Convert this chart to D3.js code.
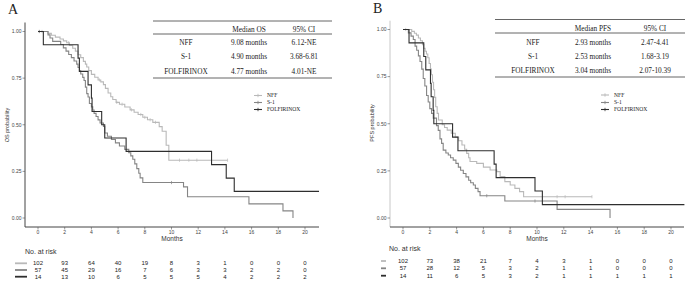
<!DOCTYPE html>
<html>
<head>
<meta charset="utf-8">
<script src="https://cdn.jsdelivr.net/npm/d3@7"></script>
<style>
  body { margin: 0; background: #fff; }
  svg { display: block; }
  .tick-lab { font-family: "Liberation Sans", Arial, sans-serif; font-size: 5px; fill: #444; }
  .risk { font-family: "Liberation Sans", Arial, sans-serif; font-size: 6px; fill: #222; }
  .serif { font-family: "Liberation Serif", "Times New Roman", serif; fill: #222; }
</style>
</head>
<body>
<div id="chart"></div>
<script>
// groups, in legend / risk-table order
const groups = ["NFF", "S-1", "FOLFIRINOX"];
const xTicks = [0, 2, 4, 6, 8, 10, 12, 14, 16, 18, 20];
const yTicks = [0, 0.25, 0.5, 0.75, 1];
const yTickLabels = ["0.00", "0.25", "0.50", "0.75", "1.00"];

// ---- overall survival (panel A), [months, probability] steps
const osNFF = [[0,1],[0.75,0.99],[1.0,0.98],[1.3,0.97],[1.65,0.96],[1.9,0.95],[2.15,0.94],[2.35,0.925],
  [2.6,0.91],[2.8,0.895],[3.0,0.875],[3.2,0.86],[3.4,0.84],[3.55,0.825],[3.65,0.81],[3.8,0.79],
  [4.0,0.77],[4.25,0.755],[4.5,0.74],[4.7,0.73],[4.9,0.715],[5.05,0.695],[5.25,0.67],[5.45,0.65],
  [5.6,0.635],[5.85,0.62],[6.1,0.61],[6.5,0.595],[6.9,0.58],[7.2,0.567],[7.5,0.555],[7.85,0.54],
  [8.2,0.527],[8.6,0.513],[9.08,0.49],[9.3,0.465],[9.6,0.39],[9.8,0.31]];
const osNFFEnd = 14.2;
const osNFFCensor = [0.1, 0.3, 2.3, 4.6, 5.9, 6.3, 7.0, 7.7, 8.0, 8.4, 8.8, 10.6, 11.3, 11.9, 14.2];

const osS1 = [[0,1],[0.75,0.982],[0.9,0.965],[1.1,0.947],[1.7,0.93],[1.9,0.912],[2.1,0.895],[2.3,0.877],
  [2.5,0.86],[2.7,0.842],[2.9,0.825],[3.0,0.807],[3.1,0.789],[3.2,0.772],[3.35,0.754],[3.45,0.737],
  [3.55,0.702],[3.65,0.667],[3.75,0.649],[3.85,0.614],[4.0,0.596],[4.1,0.579],[4.2,0.561],[4.35,0.544],
  [4.5,0.526],[4.65,0.509],[4.9,0.491],[5.0,0.456],[5.2,0.438],[5.5,0.421],[5.8,0.403],[6.1,0.386],
  [6.5,0.368],[6.8,0.35],[6.95,0.333],[7.1,0.315],[7.25,0.29],[7.4,0.265],[7.55,0.24],[7.65,0.215],
  [7.85,0.19],[10.9,0.167],[11.2,0.114],[15.8,0.076],[18.35,0.038],[19.1,0.0]];
const osS1End = 19.1;
const osS1Censor = [0.1, 10.0];

const osFOLF = [[0,1],[0.4,0.929],[3.0,0.857],[3.1,0.786],[3.75,0.714],[4.0,0.643],[4.05,0.571],
  [4.77,0.5],[5.0,0.429],[6.6,0.357],[13.0,0.286],[14.1,0.214],[14.7,0.143]];
const osFOLFEnd = 21.05;
const osFOLFCensor = [];

const osRisk = [
  [102, 93, 64, 40, 19, 8, 3, 1, 0, 0, 0],
  [57, 45, 29, 16, 7, 6, 3, 3, 2, 2, 0],
  [14, 13, 10, 6, 5, 5, 5, 4, 2, 2, 2]
];
const osTableHead = ["", "Median OS", "95% CI"];
const osTableRows = [
  ["NFF", "9.08 months", "6.12-NE"],
  ["S-1", "4.90 months", "3.68-6.81"],
  ["FOLFIRINOX", "4.77 months", "4.01-NE"]
];

// ---- progression-free survival (panel B)
const pfsNFF = [[0,1],[0.65,0.99],[0.85,0.98],[1.0,0.97],[1.15,0.955],[1.3,0.94],[1.45,0.92],[1.55,0.9],
  [1.65,0.885],[1.75,0.87],[1.85,0.85],[1.95,0.82],[2.05,0.79],[2.12,0.76],[2.2,0.72],[2.28,0.68],
  [2.36,0.64],[2.44,0.59],[2.55,0.555],[2.65,0.52],[2.93,0.495],[3.1,0.48],[3.3,0.466],[3.6,0.45],
  [3.9,0.43],[4.15,0.41],[4.4,0.387],[4.6,0.365],[4.75,0.343],[4.9,0.32],[5.0,0.3],[5.5,0.29],
  [6.0,0.27],[6.5,0.255],[7.0,0.246],[7.25,0.22],[7.6,0.193],[8.0,0.175],[8.35,0.157],[8.7,0.14],
  [9.0,0.113]];
const pfsNFFEnd = 14.1;
const pfsNFFCensor = [0.2, 11.5, 12.1, 14.1];

const pfsS1 = [[0,1],[0.4,0.982],[0.6,0.965],[0.77,0.947],[0.9,0.912],[1.02,0.89],[1.15,0.86],[1.27,0.83],
  [1.4,0.79],[1.51,0.74],[1.63,0.7],[1.76,0.65],[1.88,0.615],[2.0,0.58],[2.13,0.555],[2.26,0.53],
  [2.5,0.49],[2.63,0.465],[2.76,0.42],[2.88,0.396],[3.0,0.36],[3.2,0.345],[3.38,0.334],[3.55,0.32],
  [3.75,0.307],[3.95,0.29],[4.13,0.27],[4.3,0.253],[4.5,0.236],[4.7,0.218],[4.9,0.2],[5.05,0.187],
  [5.25,0.175],[5.4,0.157],[5.6,0.14],[5.75,0.118],[7.6,0.09],[11.5,0.046],[15.45,0.0]];
const pfsS1End = 15.45;
const pfsS1Censor = [6.25, 9.85];

const pfsFOLF = [[0,1],[0.45,0.929],[1.55,0.857],[1.7,0.786],[2.05,0.714],[2.1,0.643],[2.25,0.571],
  [2.3,0.5],[3.7,0.429],[4.1,0.357],[6.8,0.286],[6.95,0.214],[9.85,0.143],[10.4,0.071]];
const pfsFOLFEnd = 21.0;
const pfsFOLFCensor = [];

const pfsRisk = [
  [102, 73, 38, 21, 7, 4, 3, 1, 0, 0, 0],
  [57, 28, 12, 5, 3, 2, 1, 1, 0, 0, 0],
  [14, 11, 6, 5, 3, 2, 1, 1, 1, 1, 1]
];
const pfsTableHead = ["", "Median PFS", "95% CI"];
const pfsTableRows = [
  ["NFF", "2.93 months", "2.47-4.41"],
  ["S-1", "2.53 months", "1.68-3.19"],
  ["FOLFIRINOX", "3.04 months", "2.07-10.39"]
];

const groupColor = { "NFF": "#b9b9b9", "S-1": "#858585", "FOLFIRINOX": "#2e2e2e" };

const svg = d3.select("#chart").append("svg")
  .attr("width", 685).attr("height", 283);

function stepValue(steps, t) {
  let v = steps[0][1];
  for (const s of steps) { if (s[0] <= t) v = s[1]; }
  return v;
}

function drawPanel(p) {
  const g = svg.append("g");
  const x = d3.scaleLinear().domain([0, 20]).range([p.x0, p.x20]);
  const y = d3.scaleLinear().domain([0, 1]).range([p.y0, p.y1]);

  g.append("text").attr("class", "serif").attr("x", p.letterX).attr("y", p.letterY)
    .style("font-size", "14px").text(p.letter);

  // axes (ggplot-style, expanded limits)
  g.append("line").attr("x1", p.axL).attr("x2", p.axL).attr("y1", p.axTop).attr("y2", p.axBot)
    .attr("stroke", p.yAxisColor).attr("stroke-width", 1);
  g.append("line").attr("x1", p.axL).attr("x2", p.axR).attr("y1", p.axBot).attr("y2", p.axBot)
    .attr("stroke", "#444").attr("stroke-width", 1);

  g.selectAll(".yt").data(yTicks).join("line")
    .attr("x1", p.axL - 2.5).attr("x2", p.axL).attr("y1", d => y(d)).attr("y2", d => y(d))
    .attr("stroke", "#555").attr("stroke-width", 0.6);
  g.selectAll(".ytl").data(yTicks).join("text").attr("class", "tick-lab")
    .attr("x", p.axL - 3.5).attr("y", d => y(d)).attr("dy", "0.35em").attr("text-anchor", "end")
    .text((d, i) => yTickLabels[i]);

  g.selectAll(".xt").data(xTicks).join("line")
    .attr("x1", d => x(d)).attr("x2", d => x(d)).attr("y1", p.axBot).attr("y2", p.axBot + 2.5)
    .attr("stroke", "#555").attr("stroke-width", 0.6);
  g.selectAll(".xtl").data(xTicks).join("text").attr("class", "tick-lab")
    .attr("x", d => x(d)).attr("y", p.axBot + 5.5).attr("dy", "0.35em").attr("text-anchor", "middle")
    .text(d => d);

  g.append("text").attr("class", "tick-lab").style("font-size", "6.5px").style("fill", "#333")
    .attr("x", (p.axL + p.axR) / 2).attr("y", p.axBot + 12).attr("dy", "0.35em")
    .attr("text-anchor", "middle").text("Months");
  g.append("text").attr("class", "tick-lab").style("font-size", "5.5px").style("fill", "#333")
    .attr("transform", `translate(${p.ylabX},${p.ylabY}) rotate(-90)`)
    .attr("text-anchor", "middle").attr("dy", "0.35em").text(p.ylab);

  // survival curves
  const line = d3.line().x(d => x(d[0])).y(d => y(d[1])).curve(d3.curveStepAfter);
  p.curves.forEach((c, i) => {
    const col = groupColor[groups[i]];
    const pts = c.steps.concat([[c.end, c.steps[c.steps.length - 1][1]]]);
    g.append("path").attr("d", line(pts)).attr("fill", "none")
      .attr("stroke", col).attr("stroke-width", 1.1);
    g.selectAll(null).data(c.censor).join("line")
      .attr("x1", d => x(d)).attr("x2", d => x(d))
      .attr("y1", d => y(stepValue(c.steps, d)) - 1.6)
      .attr("y2", d => y(stepValue(c.steps, d)) + 1.6)
      .attr("stroke", col).attr("stroke-width", 0.7);
  });

  // summary table
  const t = p.table;
  [t.top, t.head, t.bottom].forEach(yy => {
    g.append("line").attr("x1", t.left).attr("x2", t.right).attr("y1", yy).attr("y2", yy)
      .attr("stroke", "#555").attr("stroke-width", 0.9);
  });
  g.selectAll(".th").data(p.head).join("text").attr("class", "serif")
    .style("font-size", "7.3px").attr("text-anchor", "middle")
    .attr("x", (d, i) => t.cols[i]).attr("y", t.headY).attr("dy", "0.35em").text(d => d);
  p.rows.forEach((r, ri) => {
    g.selectAll(null).data(r).join("text").attr("class", "serif")
      .style("font-size", "7.3px").attr("text-anchor", "middle")
      .attr("x", (d, i) => t.cols[i]).attr("y", t.rowY[ri]).attr("dy", "0.35em").text(d => d);
  });

  // legend
  groups.forEach((name, i) => {
    const col = groupColor[name];
    const ly = p.legend.ys[i];
    g.append("line").attr("x1", p.legend.x).attr("x2", p.legend.x + 8).attr("y1", ly).attr("y2", ly)
      .attr("stroke", col).attr("stroke-width", 1.1);
    g.append("line").attr("x1", p.legend.x + 4).attr("x2", p.legend.x + 4).attr("y1", ly - 1.7).attr("y2", ly + 1.7)
      .attr("stroke", col).attr("stroke-width", 0.8);
    g.append("text").attr("class", "serif").style("font-size", "5.6px")
      .attr("x", p.legend.tx).attr("y", ly).attr("dy", "0.35em").text(name);
  });

  // number at risk
  const rk = p.riskPos;
  g.append("text").attr("class", "risk").style("font-size", "7px").style("fill", "#333")
    .attr("x", rk.titleX).attr("y", rk.titleY).attr("dy", "0.35em").text("No. at risk");
  p.risk.forEach((row, ri) => {
    const ry = rk.rowY[ri];
    g.append("line").attr("x1", rk.segX[0]).attr("x2", rk.segX[1]).attr("y1", ry).attr("y2", ry)
      .attr("stroke", groupColor[groups[ri]]).attr("stroke-width", 1.8);
    g.selectAll(null).data(row).join("text").attr("class", "risk")
      .attr("x", (d, i) => x(xTicks[i])).attr("y", ry).attr("dy", "0.35em")
      .attr("text-anchor", "middle").text(d => d);
  });
}

drawPanel({
  letter: "A", letterX: 8, letterY: 14,
  x0: 38, x20: 305, axL: 25, axR: 319, y1: 31.5, y0: 218, axTop: 22.5, axBot: 227,
  yAxisColor: "#444", ylab: "OS probability", ylabX: 7, ylabY: 125,
  curves: [
    { steps: osNFF, end: osNFFEnd, censor: osNFFCensor },
    { steps: osS1, end: osS1End, censor: osS1Censor },
    { steps: osFOLF, end: osFOLFEnd, censor: osFOLFCensor }
  ],
  head: osTableHead, rows: osTableRows,
  table: { left: 153, right: 332, top: 21, head: 34, bottom: 78, cols: [186, 249, 304], headY: 29, rowY: [42.7, 56.7, 71] },
  legend: { x: 254, tx: 267, ys: [95.5, 102.5, 109.5] },
  risk: osRisk,
  riskPos: { titleX: 25, titleY: 252, rowY: [263.3, 270, 276.7], segX: [15, 27] }
});

drawPanel({
  letter: "B", letterX: 373, letterY: 13,
  x0: 403, x20: 671, axL: 390, axR: 684, y1: 29.5, y0: 218, axTop: 20.7, axBot: 227,
  yAxisColor: "#c8c8c8", ylab: "PFS probability", ylabX: 372, ylabY: 123,
  curves: [
    { steps: pfsNFF, end: pfsNFFEnd, censor: pfsNFFCensor },
    { steps: pfsS1, end: pfsS1End, censor: pfsS1Censor },
    { steps: pfsFOLF, end: pfsFOLFEnd, censor: pfsFOLFCensor }
  ],
  head: pfsTableHead, rows: pfsTableRows,
  table: { left: 495, right: 685, top: 19.5, head: 33, bottom: 77, cols: [533, 593, 655], headY: 28.3, rowY: [42.7, 56.7, 70.7] },
  legend: { x: 601, tx: 614, ys: [95, 102.5, 109.5] },
  risk: pfsRisk,
  riskPos: { titleX: 389, titleY: 249, rowY: [261, 268.3, 275.7], segX: [381, 386] }
});
</script>
</body>
</html>
